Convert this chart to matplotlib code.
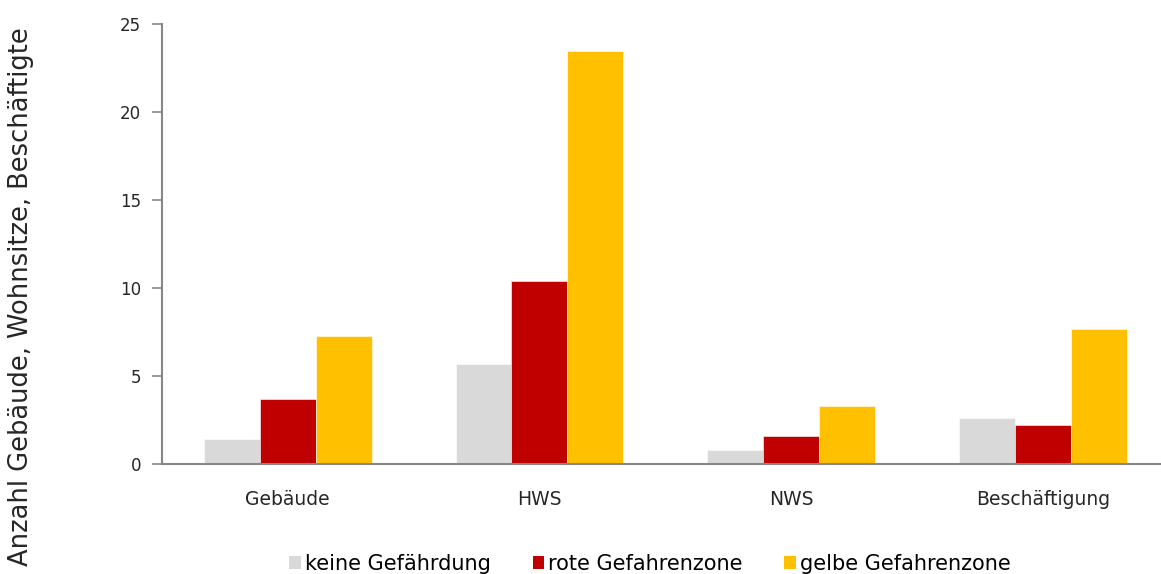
import matplotlib.pyplot as plt
import numpy as np
from matplotlib.patches import Patch

categories = ['Gebäude', 'HWS', 'NWS', 'Beschäftigung']
series_names = ['keine Gefährdung', 'rote Gefahrenzone', 'gelbe Gefahrenzone']
keine = [1.42, 5.68, 0.77, 2.61]
rote = [3.72, 10.37, 1.59, 2.22]
gelbe = [7.27, 23.47, 3.27, 7.67]
colors = ['#d9d9d9', '#c00000', '#ffc000']

plt.rcParams['font.family'] = ['DejaVu Sans']
grey = '#878787'
txt = '#262626'

fig = plt.figure(figsize=(11.61, 5.74), dpi=100)
ax = fig.add_axes([0.1395, 0.1916, 0.867, 0.7666])

x = np.arange(len(categories))
w = 0.222
for i, (vals, col) in enumerate(zip([keine, rote, gelbe], colors)):
    ax.bar(x + (i - 1) * w, vals, w, color=col, edgecolor='white', linewidth=0.4)

ax.set_xlim(-0.5, 3.5)
ax.set_ylim(0, 25)
ax.set_yticks([0, 5, 10, 15, 20, 25])
ax.set_xticks(x)
ax.set_xticklabels(categories)
ax.tick_params(axis='y', colors=grey, length=7, width=1.2, labelsize=12, labelcolor=txt, pad=8)
ax.tick_params(axis='x', length=0, labelsize=13.5, labelcolor=txt, pad=19)
for s in ['top', 'right']:
    ax.spines[s].set_visible(False)
for s in ['left', 'bottom']:
    ax.spines[s].set_color(grey)
    ax.spines[s].set_linewidth(1.5)

fig.text(0.018, 0.483, 'Anzahl Gebäude, Wohnsitze, Beschäftigte', rotation=90,
         ha='center', va='center', fontsize=18.5, color=txt)

handles = [Patch(facecolor=c, edgecolor='none') for c in colors]
fig.legend(handles, series_names, loc='center', bbox_to_anchor=(0.56, 0.018),
           ncol=3, frameon=False, fontsize=15, handlelength=0.55, handleheight=0.55,
           handletextpad=0.2, columnspacing=2.0, borderpad=0)

fig.savefig('out.png', dpi=100)
